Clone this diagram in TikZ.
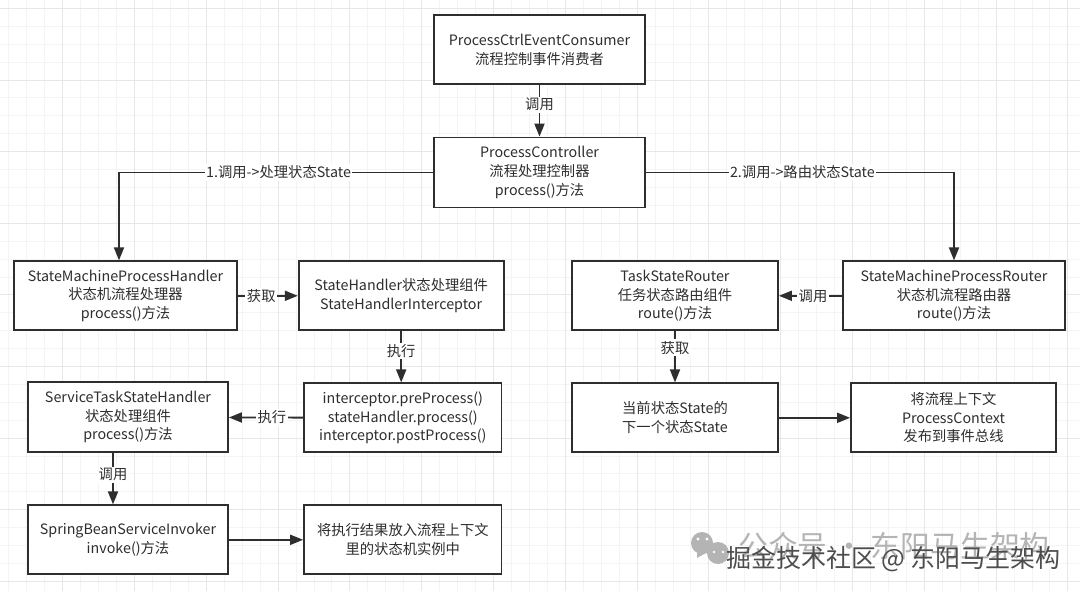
\documentclass[tikz,border=0pt]{standalone}
\usepackage{fontspec}
\setmainfont{Noto Sans CJK SC}
\usepackage{xcolor}
\usetikzlibrary{arrows.meta}
\usetikzlibrary{positioning}
\definecolor{inkgray}{HTML}{2E2E2E}
\definecolor{minorgrid}{HTML}{F4F4F4}
\definecolor{majorgrid}{HTML}{E7E7E7}
\definecolor{markgray}{HTML}{B4B4B4}
\tikzset{
    box/.style={
        draw=inkgray,
        line width=1.8pt,
        fill=white,
        align=center,
        inner sep=0pt,
        text=inkgray,
        font=\fontsize{14.3}{18.6}\selectfont
    },
    flow/.style={
        draw=inkgray,
        line width=1.8pt,
        -{Triangle[length=13pt, width=10pt]}
    },
    lbl/.style={
        fill=white,
        inner sep=1.5pt,
        text=inkgray,
        font=\fontsize{14.3}{18.6}\selectfont
    }
}
\begin{document}
\begin{tikzpicture}[x=1pt,y=-1pt]
  \useasboundingbox (0,0) rectangle (1080,591);
  \fill[white] (0,0) rectangle (1080,591);

  % Grid paper
  \foreach \i in {0,...,60} {
    \draw[minorgrid, line width=0.8pt] ({-9.2+17.95*\i},0) -- ({-9.2+17.95*\i},591);
  }
  \foreach \i in {0,...,33} {
    \draw[minorgrid, line width=0.8pt] (0,{8.4+17.9*\i}) -- (1080,{8.4+17.9*\i});
  }
  \foreach \i in {0,...,14} {
    \draw[majorgrid, line width=0.8pt] ({62.6+71.8*\i},0) -- ({62.6+71.8*\i},591);
  }
  \foreach \i in {0,...,8} {
    \draw[majorgrid, line width=0.8pt] (0,{8.4+71.6*\i}) -- (1080,{8.4+71.6*\i});
  }

  % Top row
  \node[box, minimum width=211pt, minimum height=69pt] (consumer) at (539.5,49.7) {ProcessCtrlEventConsumer\\流程控制事件消费者};
  \node[box, minimum width=211pt, minimum height=70pt] (controller) at (539.5,172.5) {ProcessController\\流程处理控制器\\process()方法};

  % Left side
  \node[box, minimum width=223pt, minimum height=69pt] (smhandler) at (125.5,295.8) {StateMachineProcessHandler\\状态机流程处理器\\process()方法};
  \node[box, minimum width=205pt, minimum height=69pt] (statehandler) at (401.2,295.8) {StateHandler状态处理组件\\StateHandlerInterceptor};
  \node[box, minimum width=197.5pt, minimum height=69pt] (interceptor) at (402.8,417.8) {interceptor.preProcess()\\stateHandler.process()\\interceptor.postProcess()};
  \node[box, minimum width=200pt, minimum height=70pt] (servicetask) at (128,417.3) {ServiceTaskStateHandler\\状态处理组件\\process()方法};
  \node[box, minimum width=200pt, minimum height=69pt] (invoker) at (128,539.8) {SpringBeanServiceInvoker\\invoke()方法};
  \node[box, minimum width=197.5pt, minimum height=69pt] (result) at (402.8,539.8) {将执行结果放入流程上下文\\里的状态机实例中};

  % Right side
  \node[box, minimum width=206pt, minimum height=69pt] (router) at (675,295.8) {TaskStateRouter\\任务状态路由组件\\route()方法};
  \node[box, minimum width=222pt, minimum height=69pt] (smrouter) at (954,295.8) {StateMachineProcessRouter\\状态机流程路由器\\route()方法};
  \node[box, minimum width=206pt, minimum height=69pt] (nextstate) at (675,417.8) {当前状态State的\\下一个状态State};
  \node[box, minimum width=205pt, minimum height=69pt] (publish) at (953.5,417.8) {将流程上下文\\ProcessContext\\发布到事件总线};

  % Connectors
  \draw[flow] (consumer) -- node[lbl, pos=0.38] (lblcall) {调用} (controller);
  \draw[flow] (controller.west) -| node[lbl, pos=0.246] (lblone) {1.调用->处理状态State} ([xshift=-6.5pt]smhandler.north);
  \draw[flow] (controller.east) -| node[lbl, pos=0.254] (lbltwo) {2.调用->路由状态State} (smrouter.north);
  \draw[flow] (smhandler) -- node[lbl, pos=0.39] (lblget) {获取} (statehandler);
  \draw[flow] (statehandler.south) -- node[lbl, pos=0.38] (lblexec) {执行} (statehandler.south |- interceptor.north);
  \draw[flow] (interceptor) -- node[lbl, pos=0.42] (lblrun) {执行} (servicetask);
  \draw[flow] ([xshift=-15pt]servicetask.south) -- node[lbl, pos=0.42] (lblinvoke) {调用} ([xshift=-15pt]invoker.north);
  \draw[flow] (invoker) -- (result);
  \draw[flow] (smrouter) -- node[lbl, pos=0.46] (lblroute) {调用} (router);
  \draw[flow] (router) -- node[lbl, pos=0.32] (lblfetch) {获取} (nextstate);
  \draw[flow] (nextstate) -- (publish);

  % Watermark
  \fill[markgray] (702,543) circle (11pt);
  \fill[markgray] (718,553) circle (11pt);
  \fill[markgray] (697,550) -- (706,553) -- (697,558) -- cycle;
  \fill[white] (698,539) circle (1.6pt) (707,539) circle (1.6pt) (714,552) circle (1.4pt) (723,552) circle (1.4pt);
  \node[text=markgray, font=\fontsize{29.8}{32}\selectfont, inner sep=0pt] (markback) at (894,546) {公众号 · 东阳马生架构};
  \node[text=inkgray!85, font=\fontsize{25}{28}\selectfont, inner sep=0pt] (markfront) at (893.5,559) {掘金技术社区 @ 东阳马生架构};
\end{tikzpicture}
\end{document}
